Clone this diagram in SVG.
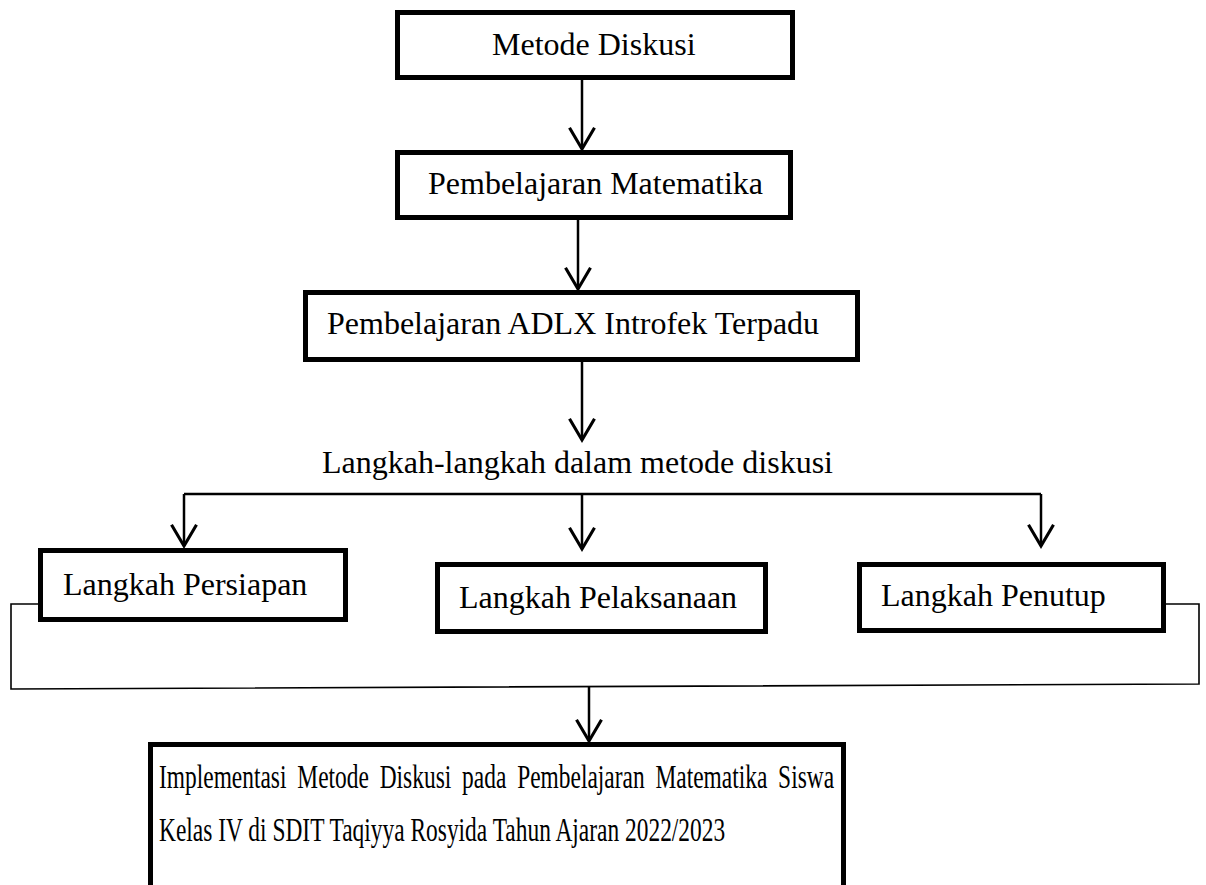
<svg xmlns="http://www.w3.org/2000/svg" width="1206" height="885" viewBox="0 0 1206 885">
<style>
.box{fill:#fff;stroke:#000;stroke-width:5}
.t{font-family:"Liberation Serif","Times New Roman",serif;font-size:32px;fill:#000}
.tb{font-family:"Liberation Serif","Times New Roman",serif;font-size:33px;fill:#000}
.ar{fill:none;stroke:#000;stroke-width:2.5;marker-end:url(#ah)}
.ln{fill:none;stroke:#000;stroke-width:2.5}
.thin{fill:none;stroke:#000;stroke-width:1.6}
</style>
<defs>
<marker id="ah" markerUnits="userSpaceOnUse" markerWidth="30" markerHeight="30" viewBox="-20 -12 24 24" refX="0" refY="0" orient="auto" overflow="visible">
<path d="M-17,-10 L0,0 L-17,10" fill="none" stroke="#000" stroke-width="2.5"/>
</marker>
</defs>
<rect width="1206" height="885" fill="#fff"/>
<g id="connectors">
<path class="ar" d="M582,80 V149"/>
<path class="ar" d="M578,220 V289"/>
<path class="ar" d="M582,362 V440"/>
<path class="ln" d="M184,494 H1041"/>
<path class="ar" d="M184,494 V546"/>
<path class="ar" d="M582,494 V549"/>
<path class="ar" d="M1041,494 V546"/>
<path class="thin" d="M38,604 H11 V689 L1199,684 V604 H1166"/>
<path class="ar" d="M589,687 V741"/>
</g>
<g id="n1"><rect class="box" x="397.5" y="12.5" width="395" height="65"/><text class="t" x="492" y="55">Metode Diskusi</text></g>
<g id="n2"><rect class="box" x="397.5" y="152.5" width="393" height="65"/><text class="t" x="428" y="194">Pembelajaran Matematika</text></g>
<g id="n3"><rect class="box" x="305.5" y="292.5" width="552" height="67"/><text class="t" x="327" y="334">Pembelajaran ADLX Introfek Terpadu</text></g>
<g id="label"><text class="t" x="322" y="473">Langkah-langkah dalam metode diskusi</text></g>
<g id="n4"><rect class="box" x="40.5" y="550.5" width="305" height="69"/><text class="t" x="63" y="595">Langkah Persiapan</text></g>
<g id="n5"><rect class="box" x="437.5" y="564.5" width="328" height="67"/><text class="t" x="459" y="608">Langkah Pelaksanaan</text></g>
<g id="n6"><rect class="box" x="859.5" y="564.5" width="304" height="66"/><text class="t" x="881" y="606">Langkah Penutup</text></g>
<g id="n7"><path class="box" d="M150.5,890 V744.5 H843.5 V890"/>
<text class="tb" transform="translate(159,788) scale(0.71,1)" word-spacing="7">Implementasi Metode Diskusi pada Pembelajaran Matematika Siswa</text>
<text class="tb" transform="translate(159,841) scale(0.71,1)">Kelas IV di SDIT Taqiyya Rosyida Tahun Ajaran 2022/2023</text>
</g>
</svg>
